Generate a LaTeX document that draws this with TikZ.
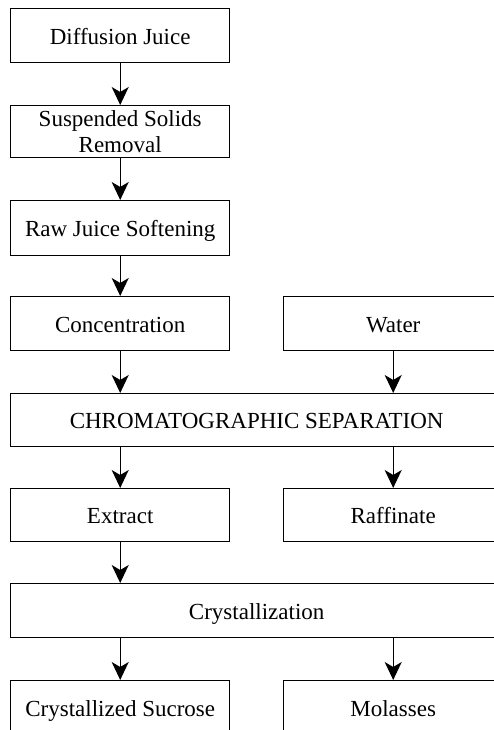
\documentclass[tikz,border=0pt]{standalone}
\usepackage{fontspec}
\setmainfont{Liberation Serif}
\usetikzlibrary{arrows.meta}
\begin{document}
\begin{tikzpicture}[x=1pt,y=-1pt,
  box/.style={draw=black,line width=1.4pt,rectangle,inner sep=0pt,align=center,
    text height=19pt,text depth=2pt,
    font=\fontsize{23}{26}\selectfont,anchor=north west},
  flow/.style={draw=black,line width=1.4pt,-{Stealth[length=18pt,width=17pt,inset=5pt]}}]
\useasboundingbox (0,0) rectangle (494,730);
\clip (0,0) rectangle (494,730);
\node[box,minimum width=219pt,minimum height=54pt] (d1) at (10,8) {Diffusion Juice};
\node[box,minimum width=219pt,minimum height=52pt,text height=,text depth=] (d2) at (10,105) {Suspended Solids\\Removal};
\node[box,minimum width=219pt,minimum height=55pt] (d3) at (10,200) {Raw Juice Softening};
\node[box,minimum width=219pt,minimum height=54pt] (conc) at (10,296) {Concentration};
\node[box,minimum width=219pt,minimum height=54pt] (water) at (283,296) {Water};
\node[box,minimum width=492pt,minimum height=53pt] (chrom) at (10,393) {CHROMATOGRAPHIC SEPARATION};
\node[box,minimum width=219pt,minimum height=53pt] (extr) at (10,488) {Extract};
\node[box,minimum width=219pt,minimum height=53pt] (raff) at (283,488) {Raffinate};
\node[box,minimum width=492pt,minimum height=54pt] (cryst) at (10,583) {Crystallization};
\node[box,minimum width=219pt,minimum height=54pt] (sucr) at (10,680) {Crystallized Sucrose};
\node[box,minimum width=219pt,minimum height=54pt] (mol) at (283,680) {Molasses};
\draw[flow] (d1) -- (d2);
\draw[flow] (d2) -- (d3);
\draw[flow] (d3) -- (conc);
\draw[flow] (conc) -- (chrom.north -| conc.south);
\draw[flow] (water) -- (chrom.north -| water.south);
\draw[flow] (chrom.south -| extr.north) -- (extr);
\draw[flow] (chrom.south -| raff.north) -- (raff);
\draw[flow] (extr) -- (cryst.north -| extr.south);
\draw[flow] (cryst.south -| sucr.north) -- (sucr);
\draw[flow] (cryst.south -| mol.north) -- (mol);
\end{tikzpicture}
\end{document}
